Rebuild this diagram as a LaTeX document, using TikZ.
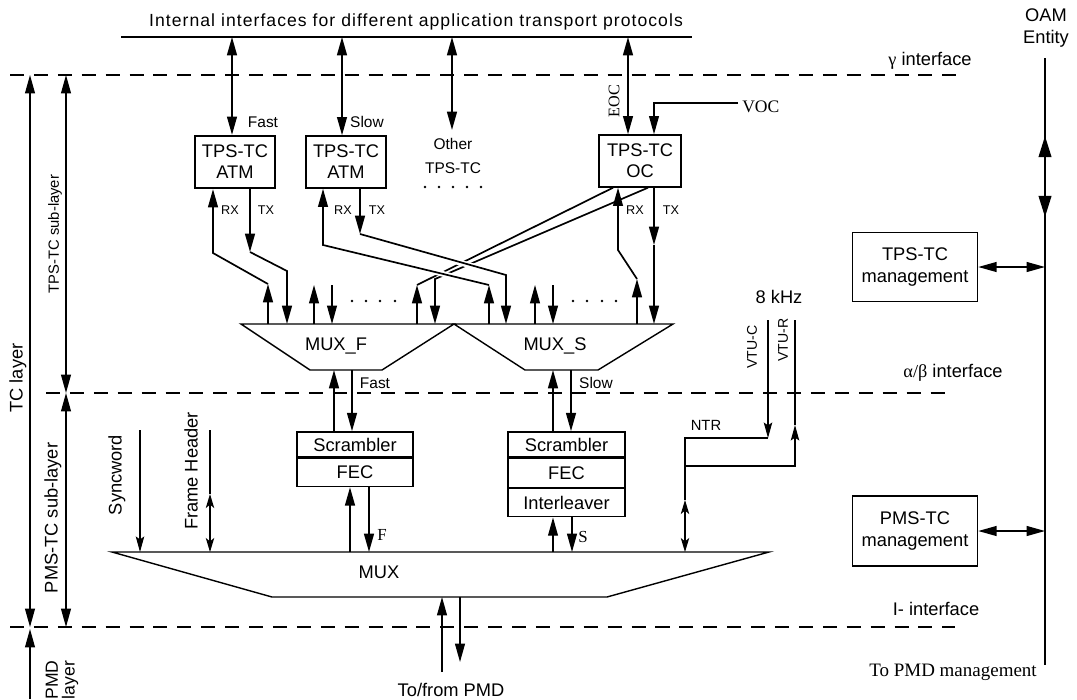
\documentclass[tikz,border=0pt]{standalone}
\usepackage{fontspec}
\setmainfont{Liberation Sans}
\newfontfamily\seriffam{Liberation Serif}
\usetikzlibrary{positioning, arrows.meta}
\tikzset{
  box/.style={draw, line width=1pt, align=center, inner sep=0pt, font=\fontsize{13}{15}\selectfont},
  lbl/.style={inner sep=0pt, align=center, font=\fontsize{13}{15}\selectfont},
  smlbl/.style={inner sep=0pt, font=\fontsize{9}{10}\selectfont},
  midlbl/.style={inner sep=0pt, align=center, font=\fontsize{11}{13}\selectfont},
  iface/.style={line width=1.4pt, dash pattern=on 10pt off 7pt},
  data/.style={line width=1.2pt},
  tip/.style={-{Triangle[length=13pt,width=7pt]}},
  dtip/.style={{Triangle[length=13pt,width=7pt]}-{Triangle[length=13pt,width=7pt]}},
  bigtip/.style={{Triangle[length=15pt,width=9pt]}-{Triangle[length=15pt,width=9pt]}},
  ttip/.style={line width=0.8pt, -{Stealth[length=11pt,width=6pt,inset=2pt]}},
  tdtip/.style={line width=0.8pt, {Stealth[length=10pt,width=6pt,inset=2.5pt]}-{Stealth[length=10pt,width=6pt,inset=2.5pt]}},
}
\begin{document}
\begin{tikzpicture}[x=0.025cm, y=-0.025cm, line join=miter]
  \useasboundingbox (0,0) rectangle (1077,699);
  % Top bus
  \node[inner sep=0pt, font=\fontsize{12.5}{14}\selectfont\addfontfeatures{LetterSpace=6}] (bustext) at (416,22) {Internal interfaces for different application transport protocols};
  \coordinate (busL) at (121,37);
  \coordinate (busR) at (692,37);
  \draw[line width=1.4pt] (busL) -- (busR);
  % Interfaces
  \draw[iface] (10,75) -- (960,75);
  \node[lbl] (gam) at (930,61) {{\seriffam γ} interface};
  \draw[iface] (46,393) -- (952,393);
  \node[lbl] (ab) at (953,373) {{\seriffam α/β} interface};
  \draw[iface] (10,627) -- (955,627);
  \node[lbl] (iif) at (936,609) {I- interface};
  % Layers on the left
  \draw[dtip, line width=0.9pt] (30,75) -- (30,627);
  \node[lbl, rotate=90] (tcl) at (18,378) {TC layer};
  \draw[dtip, line width=0.9pt] (66,75) -- (66,393);
  \node[lbl, rotate=90, font=\fontsize{10.5}{12}\selectfont] (tpsl) at (55,234) {TPS-TC sub-layer};
  \draw[dtip, line width=0.9pt] (66,393) -- (66,627);
  \node[lbl, rotate=90] (pmsl) at (53,518) {PMS-TC sub-layer};
  \draw[tip, line width=0.9pt] (30,699) -- (30,629);
  \node[lbl, rotate=90, font=\fontsize{12.5}{12}\selectfont] (pmdl) at (62,680) {PMD\\layer};
  % OAM entity
  \node[lbl] (oam) at (1046,28) {OAM\\Entity};
  \coordinate (oamTop) at (1045,58);
  \coordinate (oamBot) at (1045,665);
  \draw[line width=1.3pt] (oamTop) -- (oamBot);
  \draw[bigtip, line width=1.3pt] (1045,136) -- (1045,217);
  \node[lbl, font=\seriffam\fontsize{13.5}{15}\selectfont] (topmd) at (953,672) {To PMD management};
  \node[box, minimum width=3.125cm, minimum height=1.725cm] (tpsM) at (915,267) {TPS-TC\\management};
  \node[box, minimum width=3.125cm, minimum height=1.75cm] (pmsM) at (915,531) {PMS-TC\\management};
  \draw[dtip, line width=1pt] (tpsM.east) -- (tpsM.east -| oamTop);
  \draw[dtip, line width=1pt] (pmsM.east) -- (pmsM.east -| oamTop);
  % TPS-TC blocks
  \node[box, line width=1.6pt, minimum width=2cm, minimum height=1.3cm] (atmF) at (235,162) {TPS-TC\\ATM};
  \node[box, minimum width=2cm, minimum height=1.3cm] (atmS) at (346,162) {TPS-TC\\ATM};
  \node[box, minimum width=2.05cm, minimum height=1.3cm] (ocB) at (640,161) {TPS-TC\\OC};
  \draw[dtip, data] (232,0 |- busL) -- (232,0 |- atmF.north);
  \draw[dtip, data] (342,0 |- busL) -- (342,0 |- atmS.north);
  \draw[dtip, data] (452,37) -- (452,130);
  \draw[dtip, data] (628,0 |- busL) -- (628,0 |- ocB.north);
  \node[midlbl] (fastT) at (263,122) {Fast};
  \node[midlbl] (slowT) at (367,122) {Slow};
  \node[midlbl, font=\fontsize{11}{17}\selectfont] (other) at (453,156) {Other\\TPS-TC};
  \foreach \x in {425,439,...,482} \fill (\x,187) circle (1.3);
  \node[smlbl, rotate=90, font=\seriffam\fontsize{11.5}{12}\selectfont] (eoc) at (614,101) {EOC};
  \coordinate (vocEnd) at (738,103);
  \draw[tip, line width=1pt] (vocEnd) -- (654,103) -- (654,0 |- ocB.north);
  \node[lbl, anchor=west, font=\seriffam\fontsize{12.5}{13}\selectfont] (voc) at (742,107) {VOC};
  % RX / TX labels
  \foreach \x/\t in {230/RX, 266/TX, 343/RX, 377/TX, 635/RX, 671/TX}
    \node[smlbl] at (\x,210) {\t};
  % MUX_F and MUX_S
  \draw[line width=1pt] (241,324) -- (454,324) -- (382,370) -- (310,370) -- cycle;
  \draw[line width=1pt] (454,324) -- (673,324) -- (598,370) -- (525,370) -- cycle;
  \node[lbl] (muxF) at (336,346) {MUX\_F};
  \node[lbl] (muxS) at (555,346) {MUX\_S};
  % OC to MUX_F (drawn below the ATM lines)
  \draw[tip, data] (417,324) -- (417,285);
  \draw[data] (417,285) -- (613,0 |- ocB.south);
  \draw[tip, data] (648,0 |- ocB.south) -- (435,279) -- (435,324);
  % ATM (fast) to MUX_F
  \draw[tip, data] (268,324) -- (268,284);
  \draw[tip, data] (268,284) -- (213,253) -- (213,0 |- atmF.south);
  \draw[tip, data] (250,0 |- atmF.south) -- (250,252);
  \draw[tip, data] (250,252) -- (287,271) -- (287,324);
  % ATM (slow) to MUX_S, crossing over the OC lines
  \draw[white, line width=4pt, shorten <=16pt, shorten >=16pt] (489,285) -- (323,245);
  \draw[white, line width=4pt, shorten <=16pt, shorten >=16pt] (361,236) -- (506,275);
  \draw[tip, data] (489,324) -- (489,285);
  \draw[tip, data] (489,285) -- (323,245) -- (323,0 |- atmS.south);
  \draw[tip, data] (360,0 |- atmS.south) -- (360,234);
  \draw[tip, data] (360,234) -- (506,275) -- (506,324);
  % OC to MUX_S
  \draw[tip, data] (637,324) -- (637,279);
  \draw[tip, data] (637,279) -- (618,250) -- (618,0 |- ocB.south);
  \draw[tip, data] (654,0 |- ocB.south) -- (654,245);
  \draw[tip, data] (654,245) -- (654,324);
  % other ports
  \draw[tip, line width=0.9pt] (314,324) -- (314,285);
  \draw[tip, line width=0.9pt] (332,285) -- (332,324);
  \draw[tip, line width=0.9pt] (535,324) -- (535,285);
  \draw[tip, line width=0.9pt] (553,285) -- (553,324);
  \foreach \x in {352,366,380,395,573,587,602,616} \fill (\x,301) circle (1.3);
  % PMS-TC chains
  \node[box, minimum width=2.9cm, minimum height=0.63cm] (scrF) at (355,444.5) {Scrambler};
  \node[box, minimum width=2.9cm, minimum height=0.7cm, below=0pt of scrF] (fecF) {FEC};
  \node[box, minimum width=2.93cm, minimum height=0.63cm] (scrS) at (566.5,444.5) {Scrambler};
  \node[box, minimum width=2.93cm, minimum height=0.72cm, below=0pt of scrS] (fecS) {FEC};
  \node[box, minimum width=2.93cm, minimum height=0.7cm, below=0pt of fecS] (intS) {Interleaver};
  \draw[tip, data] (334,0 |- scrF.north) -- (334,370);
  \draw[tip, data] (352,370) -- (352,0 |- scrF.north);
  \node[midlbl] (fastB) at (375,383) {Fast};
  \draw[tip, data] (553,0 |- scrS.north) -- (553,370);
  \draw[tip, data] (571,370) -- (571,0 |- scrS.north);
  \node[midlbl] (slowB) at (596,383) {Slow};
  % MUX
  \draw[line width=1pt] (112,552) -- (769,552) -- (607,597) -- (272,597) -- cycle;
  \node[lbl] (mux) at (379,572) {MUX};
  \draw[tip, data] (350,552) -- (350,0 |- fecF.south);
  \draw[tip, data] (369,0 |- fecF.south) -- (369,552);
  \node[lbl, font=\seriffam\fontsize{12}{14}\selectfont] (fT) at (382,535) {F};
  \draw[tip, line width=1pt] (553,552) -- (553,0 |- intS.south);
  \draw[tip, line width=1pt] (572,0 |- intS.south) -- (572,552);
  \node[lbl, font=\seriffam\fontsize{12}{14}\selectfont] (sT) at (583,537) {S};
  \draw[tip, line width=1pt] (442,672) -- (442,597);
  \draw[tip, line width=1pt] (460,597) -- (460,662);
  \node[lbl] (pmd) at (451,690) {To/from PMD};
  % Syncword and frame header
  \draw[ttip] (140,430) -- (140,552);
  \node[lbl, rotate=90] (sync) at (117,475) {Syncword};
  \draw[line width=0.8pt] (210,430) -- (210,494);
  \draw[tdtip] (210,494) -- (210,552);
  \node[lbl, rotate=90] (fhdr) at (191,471) {Frame Header};
  % NTR
  \node[lbl] (khz) at (779,297) {8 kHz};
  \draw[ttip] (768,320) -- (768,438);
  \draw[line width=0.8pt] (768,438) -- (685,438) -- (685,500);
  \draw[tdtip] (685,500) -- (685,552);
  \draw[ttip] (685,466) -- (795,466) -- (795,425);
  \draw[line width=0.8pt] (795,425) -- (795,320);
  \node[smlbl, font=\fontsize{10.5}{12}\selectfont] (ntr) at (706,425) {NTR};
  \node[smlbl, rotate=90, font=\fontsize{10}{12}\selectfont] (vtuc) at (752,347) {VTU-C};
  \node[smlbl, rotate=90, font=\fontsize{10}{12}\selectfont] (vtur) at (783,340) {VTU-R};
\end{tikzpicture}
\end{document}
